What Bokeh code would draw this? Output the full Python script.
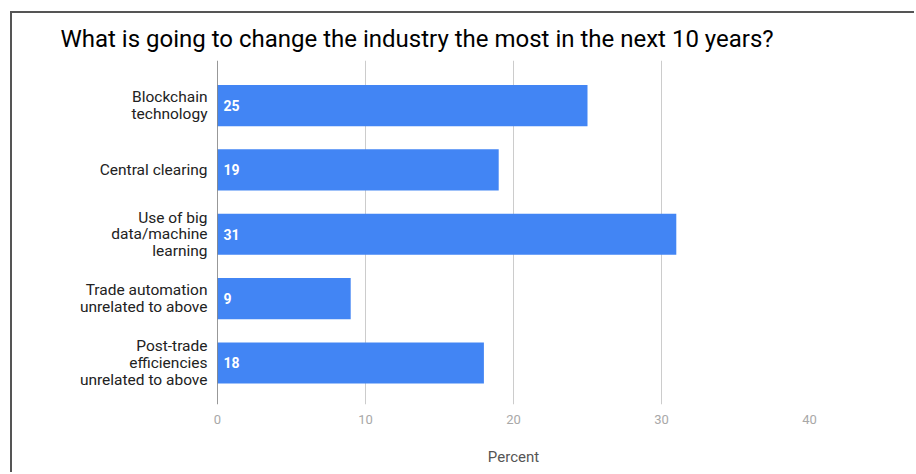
from bokeh.plotting import figure
from bokeh.models import Range1d, FixedTicker, Span, ColumnDataSource, LabelSet
from bokeh.core.properties import value
from bokeh.embed import file_html
from bokeh.resources import INLINE

title_text = "What is going to change the industry the most in the next 10 years?"
categories = [
    "Blockchain\ntechnology",
    "Central clearing",
    "Use of big\ndata/machine\nlearning",
    "Trade automation\nunrelated to above",
    "Post-trade\nefficiencies\nunrelated to above",
]
values = [25, 19, 31, 9, 18]
x_ticks = [0, 10, 20, 30, 40]

positions = list(range(len(categories)))
src = ColumnDataSource(dict(
    y=positions,
    v=values,
    zero=[0] * len(values),
    lab=[str(v) for v in values],
))

p = figure(
    width=904, height=461,
    x_range=Range1d(0, 40), y_range=Range1d(4.645, -0.70),
    output_backend="svg", toolbar_location=None,
    min_border_left=205, min_border_right=107,
    min_border_top=47, min_border_bottom=70,
    title=title_text,
)
p.styles = {
    "border-top": "2px solid #555",
    "border-left": "2px solid #555",
    "margin-top": "11px",
    "margin-left": "10px",
}
p.outline_line_color = None
p.title.text_font = "Roboto"
p.title.text_font_size = "24px"
p.title.text_font_style = "normal"
p.title.text_color = "#000000"
p.title.offset = -157
p.title.vertical_align = "middle"
p.title.standoff = 14

p.hbar(y="y", left="zero", right="v", height=0.64, source=src,
       fill_color="#4285F4", line_color=None)

labels = LabelSet(x="zero", y="y", text="lab", source=src, x_offset=6,
                  text_baseline="middle", text_align="left",
                  text_color="white", text_font=value("Roboto"),
                  text_font_size="14px", text_font_style="bold")
p.add_layout(labels)

p.add_layout(Span(location=0, dimension="height", line_color="#333333", line_width=1))

p.xgrid.ticker = FixedTicker(ticks=x_ticks)
p.xgrid.grid_line_color = "#cccccc"
p.ygrid.grid_line_color = None

xa = p.xaxis[0]
xa.ticker = FixedTicker(ticks=x_ticks)
xa.axis_line_color = None
xa.major_tick_line_color = None
xa.minor_tick_line_color = None
xa.major_label_text_color = "#a8a8a8"
xa.major_label_text_font = "Roboto"
xa.major_label_text_font_size = "13px"
xa.major_label_standoff = 4
xa.axis_label = "Percent"
xa.axis_label_text_font = "Roboto"
xa.axis_label_text_font_size = "15px"
xa.axis_label_text_font_style = "normal"
xa.axis_label_text_color = "#555555"
xa.axis_label_standoff = 21

ya = p.yaxis[0]
ya.ticker = FixedTicker(ticks=positions)
ya.major_label_overrides = {i: c for i, c in zip(positions, categories)}
ya.axis_line_color = None
ya.major_tick_line_color = None
ya.minor_tick_line_color = None
ya.major_label_text_color = "#222222"
ya.major_label_text_font = "Roboto"
ya.major_label_text_font_size = "15.5px"
ya.major_label_text_line_height = 0.92
ya.major_label_standoff = 4

open("out.html", "w").write(file_html(p, INLINE))
